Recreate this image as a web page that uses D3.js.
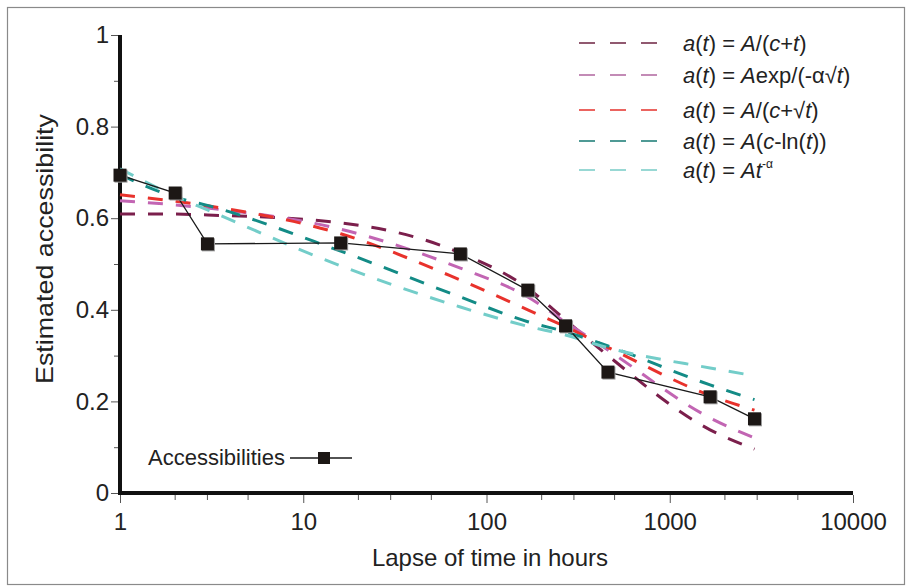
<!DOCTYPE html>
<html>
<head>
<meta charset="utf-8">
<script src="https://cdn.jsdelivr.net/npm/d3@7"></script>
<style>
  body { margin: 0; background: #fff; }
  svg { font-family: "Liberation Sans", Arial, sans-serif; }
</style>
</head>
<body>
<svg id="chart" width="907" height="588"></svg>
<script>
// lapse of time (hours) for the measured points
var hours = [1, 2, 3, 16, 72, 168, 270, 460, 1660, 2900];
var accessibilities = [0.694, 0.655, 0.544, 0.546, 0.522, 0.443, 0.365, 0.264, 0.210, 0.162];

// fitted curves, read at the same hours
var fitInvLinear = [0.609, 0.609, 0.607, 0.590, 0.524, 0.447, 0.378, 0.300, 0.138, 0.096];
var fitExpSqrt   = [0.638, 0.629, 0.622, 0.576, 0.491, 0.428, 0.373, 0.312, 0.164, 0.120];
var fitInvSqrt   = [0.651, 0.637, 0.627, 0.566, 0.465, 0.400, 0.363, 0.318, 0.213, 0.181];
var fitLog       = [0.695, 0.646, 0.628, 0.528, 0.428, 0.374, 0.352, 0.321, 0.236, 0.204];
var fitPower     = [0.708, 0.648, 0.618, 0.496, 0.406, 0.364, 0.345, 0.317, 0.273, 0.256];

var xTicks = [1, 10, 100, 1000, 10000];
var yTicks = [0, 0.1, 0.2, 0.3, 0.4, 0.5, 0.6, 0.7, 0.8, 0.9, 1];

var fits = [
  {values: fitInvLinear, color: "#7b1f4c", legendColor: "#6e2341"},
  {values: fitExpSqrt,   color: "#c265b3", legendColor: "#b0659f"},
  {values: fitInvSqrt,   color: "#e8322c", legendColor: "#e5322d"},
  {values: fitLog,       color: "#138b86", legendColor: "#167a73"},
  {values: fitPower,     color: "#73cdc9", legendColor: "#77ccc6"}
];

var svg = d3.select("#chart");
var x = d3.scaleLog().domain([1, 10000]).range([120, 853]);
var y = d3.scaleLinear().domain([0, 1]).range([493, 35]);

// outer frame
svg.append("rect")
  .attr("x", 7.5).attr("y", 7.5)
  .attr("width", 897).attr("height", 577)
  .attr("fill", "none").attr("stroke", "#8a8a8a").attr("stroke-width", 1.2);

// y axis ticks + labels
var yAxis = svg.append("g")
  .attr("transform", "translate(118,0)")
  .call(d3.axisLeft(y).tickValues(yTicks).tickSize(7).tickPadding(2)
    .tickFormat(function(d) {
      var r = Math.round(d * 10);
      return r % 2 === 0 ? d3.format("~g")(Math.round(d * 10) / 10) : "";
    }));
yAxis.select(".domain").remove();
yAxis.selectAll(".tick line")
  .attr("stroke", "#555")
  .attr("x2", function(d) { return Math.round(d * 10) % 2 === 0 ? -7 : -4; });
yAxis.selectAll(".tick text")
  .attr("font-size", 24).attr("fill", "#222")
  .attr("font-family", "Liberation Sans, Arial, sans-serif");

// x axis ticks (major + 2,3,5 minor)
var minor = [];
[1, 10, 100, 1000].forEach(function(b) { minor.push(b * 2, b * 3, b * 5); });
var xAxis = svg.append("g")
  .attr("transform", "translate(0,495)")
  .call(d3.axisBottom(x).tickValues(xTicks).tickSize(8).tickPadding(10)
    .tickFormat(d3.format("d")));
xAxis.select(".domain").remove();
xAxis.selectAll(".tick line").attr("stroke", "#555");
xAxis.selectAll(".tick text")
  .attr("font-size", 24).attr("fill", "#222")
  .attr("font-family", "Liberation Sans, Arial, sans-serif");
xAxis.selectAll(".minor")
  .data(minor)
  .join("line")
  .attr("class", "minor")
  .attr("x1", d => x(d)).attr("x2", d => x(d))
  .attr("y1", 0).attr("y2", 5)
  .attr("stroke", "#555");

// thick axis lines
svg.append("line")
  .attr("x1", 120).attr("x2", 120)
  .attr("y1", y(1)).attr("y2", y(0) + 2)
  .attr("stroke", "#111").attr("stroke-width", 4);
svg.append("line")
  .attr("x1", 118).attr("x2", x(10000))
  .attr("y1", y(0)).attr("y2", y(0))
  .attr("stroke", "#111").attr("stroke-width", 4);

// axis titles
svg.append("text")
  .attr("x", 490).attr("y", 566)
  .attr("text-anchor", "middle")
  .attr("font-size", 24).attr("fill", "#222")
  .text("Lapse of time in hours");
svg.append("text")
  .attr("transform", "translate(53,249) rotate(-90)")
  .attr("text-anchor", "middle")
  .attr("font-size", 24).attr("fill", "#222")
  .attr("textLength", 270).attr("lengthAdjust", "spacingAndGlyphs")
  .text("Estimated accessibility");

// fitted curves
var line = d3.line()
  .x((d, i) => x(hours[i]))
  .y(d => y(d))
  .curve(d3.curveMonotoneX);

var fitGroup = svg.append("g");
fitGroup.selectAll("path")
  .data(fits)
  .join("path")
  .attr("d", d => line(d.values))
  .attr("fill", "none")
  .attr("stroke", d => d.color)
  .attr("stroke-width", 3)
  .attr("stroke-dasharray", "15,13");

// measured accessibilities
var pts = hours.map((h, i) => [h, accessibilities[i]]);
svg.append("path")
  .attr("d", d3.line().x(d => x(d[0])).y(d => y(d[1]))(pts))
  .attr("fill", "none")
  .attr("stroke", "#1a1a1a")
  .attr("stroke-width", 1.3);

var markers = svg.append("g");
markers.selectAll(".shadow")
  .data(pts)
  .join("rect")
  .attr("class", "shadow")
  .attr("x", d => x(d[0]) - 5.5).attr("y", d => y(d[1]) - 5.5)
  .attr("width", 13).attr("height", 13)
  .attr("fill", "#9a9a9a");
markers.selectAll(".mk")
  .data(pts)
  .join("rect")
  .attr("class", "mk")
  .attr("x", d => x(d[0]) - 6.5).attr("y", d => y(d[1]) - 6.5)
  .attr("width", 13).attr("height", 13)
  .attr("fill", "#1c1715");

// legend for fits
var legendRows = [43, 75, 110, 141, 170];
var legend = svg.append("g");
fits.forEach(function(f, i) {
  legend.append("line")
    .attr("x1", 579).attr("x2", 658)
    .attr("y1", legendRows[i]).attr("y2", legendRows[i])
    .attr("stroke", f.legendColor)
    .attr("stroke-width", 1.6)
    .attr("stroke-dasharray", "16,15");
});

// each label as pieces: [text, italic]
var legendLabels = [
  [["a", 1], ["(", 0], ["t", 1], [") = ", 0], ["A", 1], ["/(", 0], ["c", 1], ["+", 0], ["t", 1], [")", 0]],
  [["a", 1], ["(", 0], ["t", 1], [") = ", 0], ["A", 1], ["exp/(-\u03b1\u221a", 0], ["t", 1], [")", 0]],
  [["a", 1], ["(", 0], ["t", 1], [") = ", 0], ["A", 1], ["/(", 0], ["c", 1], ["+\u221a", 0], ["t", 1], [")", 0]],
  [["a", 1], ["(", 0], ["t", 1], [") = ", 0], ["A", 1], ["(", 0], ["c", 1], ["-ln(", 0], ["t", 1], ["))", 0]],
  [["a", 1], ["(", 0], ["t", 1], [") = ", 0], ["At", 1]]
];
legendLabels.forEach(function(parts, i) {
  var t = legend.append("text")
    .attr("x", 683).attr("y", legendRows[i] + 8)
    .attr("font-size", 22).attr("fill", "#222");
  parts.forEach(function(p) {
    t.append("tspan")
      .attr("font-style", p[1] ? "italic" : "normal")
      .text(p[0]);
  });
  if (i === 4) {
    t.append("tspan")
      .attr("font-size", 12)
      .attr("dy", -10)
      .text("-\u03b1");
  }
});

// legend for measured points
svg.append("text")
  .attr("x", 148).attr("y", 465)
  .attr("font-size", 22).attr("fill", "#222")
  .text("Accessibilities");
svg.append("line")
  .attr("x1", 290).attr("x2", 352)
  .attr("y1", 458).attr("y2", 458)
  .attr("stroke", "#1a1a1a").attr("stroke-width", 1.3);
svg.append("rect")
  .attr("x", 318).attr("y", 452)
  .attr("width", 12).attr("height", 12)
  .attr("fill", "#1c1715");
</script>
</body>
</html>
